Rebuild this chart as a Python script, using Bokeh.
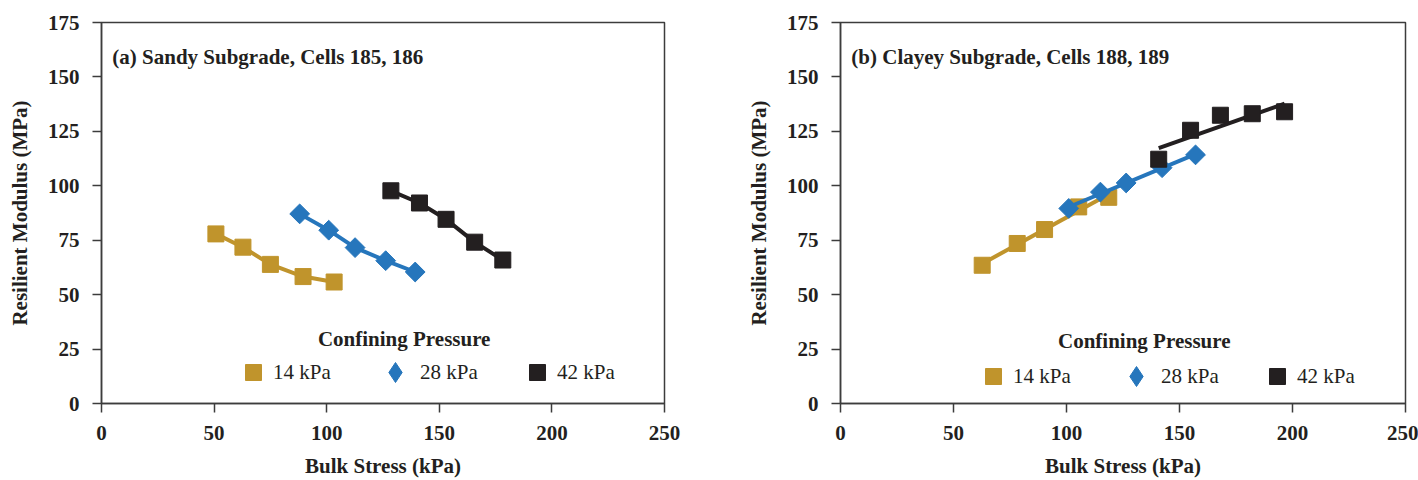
import numpy as np
from bokeh.plotting import figure
from bokeh.layouts import row
from bokeh.models import Legend, LegendItem, Label, ColumnDataSource, FixedTicker
from bokeh.embed import file_html
from bokeh.resources import INLINE

# Confining pressure series
pressures = ["14 kPa", "28 kPa", "42 kPa"]
colors = ["#C0942C", "#2676BC", "#231F20"]

# (a) Sandy subgrade, cells 185, 186
sandy_14_x = [50.8, 62.8, 75.0, 89.5, 103.3]
sandy_14_y = [77.9, 71.8, 63.9, 58.3, 55.8]
sandy_28_x = [88.0, 100.9, 112.6, 126.2, 139.3]
sandy_28_y = [87.1, 79.6, 71.6, 65.6, 60.4]
sandy_42_x = [128.5, 141.2, 153.0, 165.7, 178.2]
sandy_42_y = [97.7, 92.1, 84.6, 74.1, 65.9]

# (b) Clayey subgrade, cells 188, 189
clay_14_x = [62.7, 78.2, 90.3, 105.4, 118.7]
clay_14_y = [63.5, 73.5, 79.9, 90.3, 94.7]
clay_28_x = [101.0, 115.0, 126.4, 142.3, 157.1]
clay_28_y = [89.6, 97.1, 101.3, 108.3, 114.2]
clay_42_x = [140.8, 154.9, 168.1, 182.2, 196.5]
clay_42_y = [112.2, 125.5, 132.4, 133.1, 134.0]

x_ticks = [0, 50, 100, 150, 200, 250]
y_ticks = [0, 25, 50, 75, 100, 125, 150, 175]

SERIF = "Liberation Serif"
INK = "#231F20"
AXIS = "#3C3C3C"
FS = "21px"


def key_legend(item, loc, glyph, standoff):
    return Legend(items=[item], location=loc, orientation="horizontal",
                  glyph_width=glyph, glyph_height=glyph, label_standoff=standoff,
                  padding=0, margin=0, border_line_color=None,
                  background_fill_alpha=0, label_text_font=SERIF,
                  label_text_font_size=FS, label_text_color=INK,
                  label_text_baseline="middle")


def make_panel(title, series, fitted, left, right, legend_y, key_pos):
    p = figure(width=709, height=480, x_range=(0, 250), y_range=(0, 175),
               output_backend="svg", toolbar_location=None,
               min_border_left=left, min_border_right=right,
               min_border_top=22, min_border_bottom=75)
    p.xgrid.visible = False
    p.ygrid.visible = False
    p.outline_line_color = AXIS
    p.outline_line_width = 1.5
    p.background_fill_color = "white"
    p.border_fill_color = "white"

    p.xaxis.ticker = FixedTicker(ticks=x_ticks)
    p.yaxis.ticker = FixedTicker(ticks=y_ticks)
    for ax in (p.xaxis[0], p.yaxis[0]):
        ax.axis_line_color = AXIS
        ax.axis_line_width = 1.5
        ax.major_tick_line_color = AXIS
        ax.major_tick_line_width = 1.5
        ax.major_tick_out = 9
        ax.major_tick_in = 0
        ax.minor_tick_line_color = None
        ax.major_label_text_font = SERIF
        ax.major_label_text_font_style = "bold"
        ax.major_label_text_font_size = FS
        ax.major_label_text_color = INK
        ax.axis_label_text_font = SERIF
        ax.axis_label_text_font_style = "bold"
        ax.axis_label_text_font_size = FS
        ax.axis_label_text_color = INK
    p.xaxis.major_label_standoff = 13
    p.xaxis.axis_label_standoff = 11
    p.yaxis.major_label_standoff = 13
    p.yaxis.axis_label_standoff = 13
    p.xaxis.axis_label = "Bulk Stress (kPa)"
    p.yaxis.axis_label = "Resilient Modulus (MPa)"

    renderers = []
    for (xs, ys), color, name in zip(series, colors, pressures):
        src = ColumnDataSource(dict(x=xs, y=ys))
        if fitted:
            # least-squares trend line over the measured range
            k, b = np.polyfit(xs, ys, 1)
            fx = [min(xs), max(xs)]
            fy = [k * v + b for v in fx]
            p.line(fx, fy, line_color=color, line_width=4)
        else:
            p.line("x", "y", source=src, line_color=color, line_width=4)
        if name == "28 kPa":
            p.scatter("x", "y", source=src, marker="square", angle=np.pi / 4,
                      size=14, fill_color=color, line_color=color)
            # legend key only: diamond glyph on the same points, not drawn
            r = p.scatter("x", "y", source=src, marker="diamond", size=16,
                          fill_color=color, line_color=color, visible=False)
        else:
            r = p.scatter("x", "y", source=src, marker="square", size=16,
                          fill_color=color, line_color=color)
        renderers.append(r)

    p.add_layout(Label(x=4.8, y=159.0, text=title, text_font=SERIF,
                       text_font_style="bold", text_font_size=FS,
                       text_color=INK, text_baseline="middle"))
    p.add_layout(Label(x=134.4, y=legend_y, text="Confining Pressure",
                       text_font=SERIF, text_font_style="bold",
                       text_font_size=FS, text_color=INK,
                       text_align="center", text_baseline="middle"))

    for name, r, loc in zip(pressures, renderers, key_pos):
        item = LegendItem(label=name, renderers=[r])
        if name == "28 kPa":
            p.add_layout(key_legend(item, loc, 50, -10))
        else:
            p.add_layout(key_legend(item, loc, 40, -3))
    return p


p1 = make_panel("(a) Sandy Subgrade, Cells 185, 186",
                [(sandy_14_x, sandy_14_y), (sandy_28_x, sandy_28_y), (sandy_42_x, sandy_42_y)],
                False, 101, 45, 29.4,
                [(132, 11), (269, 6), (416, 11)])
p2 = make_panel("(b) Clayey Subgrade, Cells 188, 189",
                [(clay_14_x, clay_14_y), (clay_28_x, clay_28_y), (clay_42_x, clay_42_y)],
                True, 131, 13, 28.8,
                [(133, 7), (271, 2), (417, 7)])

layout = row(p1, p2)
open("out.html", "w").write(file_html(layout, INLINE))
